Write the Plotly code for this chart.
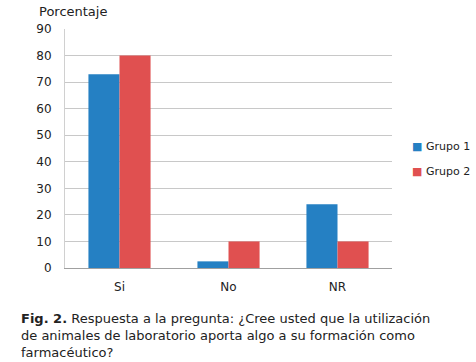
import plotly.graph_objects as go

categories = ["Si", "No", "NR"]
grupo1 = [73, 2.5, 24]
grupo2 = [80, 10, 10]
series_names = ["Grupo 1", "Grupo 2"]
series_colors = ["#2580c3", "#e05050"]
y_ticks = [0, 10, 20, 30, 40, 50, 60, 70, 80, 90]

fig = go.Figure()
for name, vals, col in zip(series_names, [grupo1, grupo2], series_colors):
    fig.add_trace(go.Bar(x=categories, y=vals, name=name,
                         marker=dict(color=col, line=dict(width=0))))

W, H = 476, 362
plot_l, plot_r, plot_t, plot_b = 65, 392, 29, 268
L, R, T, B = plot_l, W - plot_r, plot_t, H - plot_b
pw, ph = plot_r - plot_l, plot_b - plot_t

def px(x):
    return (x - plot_l) / pw

def py(y):
    return (plot_b - y) / ph

legend_ann = []
for i, (name, col) in enumerate(zip(series_names, series_colors)):
    legend_ann.append(dict(
        text=f"<span style='color:{col}'>■</span> {name}",
        xref="paper", yref="paper", x=px(410), y=py(146 + 25 * i),
        xanchor="left", yanchor="middle", showarrow=False,
        font=dict(size=11, color="#222")))

fig.update_layout(
    width=W, height=H,
    margin=dict(l=L, r=R, t=T, b=B, autoexpand=False),
    paper_bgcolor="white", plot_bgcolor="white",
    barmode="group", bargap=0.43, bargroupgap=0,
    font=dict(family="DejaVu Sans", size=12, color="#222"),
    showlegend=False,
    xaxis=dict(showgrid=False, showline=True, linecolor="#a0a0a0", linewidth=1,
               ticks="", ticklabelstandoff=8, tickfont=dict(size=12, color="#222")),
    yaxis=dict(range=[0, 90], tickvals=y_ticks, showgrid=True, gridcolor="#c8c8c8",
               gridwidth=1, showline=True, linecolor="#d0d0d0", zeroline=False,
               ticks="", ticklabelstandoff=10, tickfont=dict(size=12, color="#222")),
    annotations=[
        dict(text="Porcentaje", xref="paper", yref="paper", x=px(37), y=py(2),
             xanchor="left", yanchor="top", showarrow=False,
             font=dict(size=13, color="#222")),
        dict(text="<b>Fig. 2.</b> Respuesta a la pregunta: ¿Cree usted que la utilización<br>"
                  "de animales de laboratorio aporta algo a su formación como<br>"
                  "farmacéutico?",
             xref="paper", yref="paper", x=px(19), y=py(309),
             xanchor="left", yanchor="top", align="left", showarrow=False,
             font=dict(size=13, color="#222")),
    ] + legend_ann,
)

fig.write_html("out.html", config={"displayModeBar": False},
               post_script="document.body.style.margin='0';document.body.style.overflow='hidden';")
